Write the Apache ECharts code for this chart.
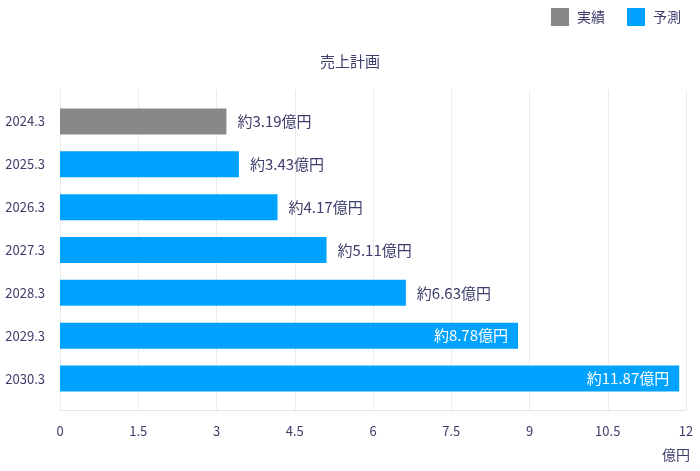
<!DOCTYPE html>
<html>
<head>
<meta charset="utf-8">
<script src="https://cdn.jsdelivr.net/npm/echarts@6/dist/echarts.min.js"></script>
<style>html,body{margin:0;padding:0;background:#fff}#c{width:700px;height:471px}</style>
</head>
<body>
<div id="c"></div>
<script>
const categories = ['2024.3', '2025.3', '2026.3', '2027.3', '2028.3', '2029.3', '2030.3'];
const actualValues = [3.19, null, null, null, null, null, null];
const forecastValues = [null, 3.43, 4.17, 5.11, 6.63, 8.78, 11.87];
const xTicks = [0, 1.5, 3, 4.5, 6, 7.5, 9, 10.5, 12];
const seriesNames = ['実績', '予測'];
const titleText = '売上計画';
const unitText = '億円';

const FONT = '"Noto Sans CJK JP", "Noto Sans", sans-serif';
const TXT = '#3d3d6b';
const labelFmt = p => '約' + Number(p.value).toFixed(2) + '億円';

function makeData(arr) {
  return arr.map(v => {
    if (v == null) return '-';
    if (v > 8) {
      return { value: v, label: { position: 'insideRight', color: '#ffffff', distance: 10 } };
    }
    return v;
  });
}

const chart = echarts.init(document.getElementById('c'), null, { renderer: 'canvas' });
chart.setOption({
  animation: false,
  textStyle: { fontFamily: FONT },
  title: {
    text: titleText, left: 'center', top: 49,
    textStyle: { fontSize: 15, fontWeight: 'normal', color: TXT, fontFamily: FONT }
  },
  legend: {
    data: seriesNames, right: 14, top: 3, itemWidth: 18, itemHeight: 18, itemGap: 22,
    icon: 'rect',
    textStyle: { fontSize: 14, color: TXT, fontFamily: FONT, padding: [0, 0, 0, 3] }
  },
  grid: [
    { left: 60, right: 14, top: 90, bottom: 61 },
    { left: 60, right: 14, top: 100, bottom: 71 }
  ],
  xAxis: [
    {
      gridIndex: 0, type: 'value', min: xTicks[0], max: xTicks[xTicks.length - 1], interval: 1.5,
      axisLine: { show: true, lineStyle: { color: '#e6e6e6' } },
      axisTick: { show: false },
      splitLine: { show: true, lineStyle: { color: '#ebebeb' } },
      axisLabel: { color: TXT, fontSize: 13, margin: 15, fontFamily: FONT },
      name: unitText, nameLocation: 'end', nameGap: 4,
      nameTextStyle: { color: TXT, fontSize: 14, align: 'right', verticalAlign: 'top', padding: [38, 0, 0, 0], fontFamily: FONT }
    },
    {
      gridIndex: 1, type: 'value', min: xTicks[0], max: xTicks[xTicks.length - 1], show: false
    }
  ],
  yAxis: [
    { gridIndex: 0, type: 'value', show: false },
    {
      gridIndex: 1, type: 'category', data: categories, inverse: true,
      axisLine: { show: false }, axisTick: { show: false },
      splitLine: { show: false },
      axisLabel: { color: TXT, fontSize: 13, margin: 15, fontFamily: FONT }
    }
  ],
  series: [
    {
      name: seriesNames[0], type: 'bar', xAxisIndex: 1, yAxisIndex: 1, stack: 'all',
      data: makeData(actualValues), barWidth: 26,
      itemStyle: { color: '#888888' },
      label: { show: true, position: 'right', distance: 11, color: TXT, fontSize: 15, formatter: labelFmt, fontFamily: FONT }
    },
    {
      name: seriesNames[1], type: 'bar', xAxisIndex: 1, yAxisIndex: 1, stack: 'all',
      data: makeData(forecastValues), barWidth: 26,
      itemStyle: { color: '#00a2ff' },
      label: { show: true, position: 'right', distance: 11, color: TXT, fontSize: 15, formatter: labelFmt, fontFamily: FONT }
    }
  ]
});
</script>
</body>
</html>
